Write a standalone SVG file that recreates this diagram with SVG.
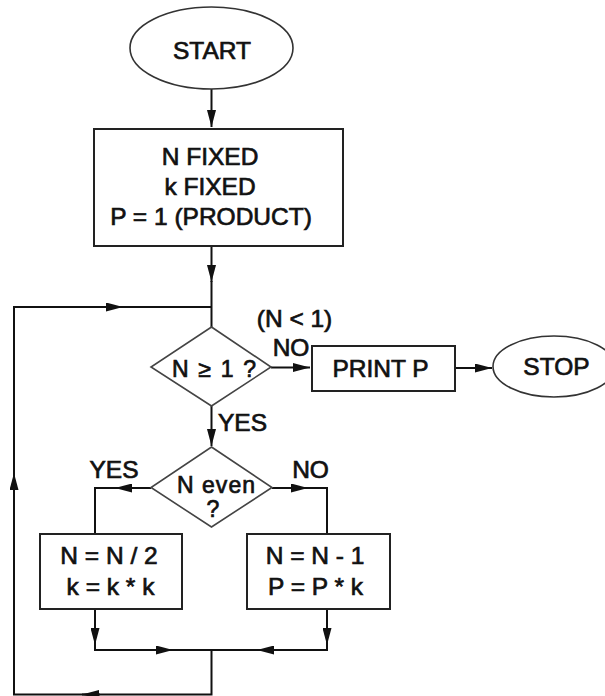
<svg xmlns="http://www.w3.org/2000/svg" width="605" height="696" viewBox="0 0 605 696">
<style>
  text { font-family: "Liberation Sans", Arial, sans-serif; font-size: 24.5px; fill: #111; stroke: #111; stroke-width: 0.7px; text-anchor: middle; }
  .dt { font-size: 23px; }
  .box { fill: #fff; stroke: #222; stroke-width: 2; }
  .ell { fill: #fff; stroke: #333; stroke-width: 1.6; }
  .dia { fill: #fff; stroke: #444; stroke-width: 1.6; }
  .ln { fill: none; stroke: #111; stroke-width: 2; }
  .ar { fill: none; stroke: #111; stroke-width: 2; marker-end: url(#ah); }
</style>
<defs>
  <marker id="ah" markerUnits="userSpaceOnUse" markerWidth="17" markerHeight="9" refX="17" refY="4.5" orient="auto">
    <path d="M0,0 L17,4.5 L0,9 z" fill="#111"/>
  </marker>
</defs>
<rect width="605" height="696" fill="#fff"/>

<g id="connectors">
  <path class="ar" d="M211.5,89 V127"/>
  <path class="ar" d="M211.5,246 V282"/>
  <path class="ln" d="M211.5,281 V327"/>
  <path class="ln" d="M211.5,650 V694.5 H14 V307 H211.5"/>
  <path class="ar" d="M100,694.5 H82"/>
  <path class="ar" d="M14,492 V473"/>
  <path class="ar" d="M100,307 H123"/>
  <path class="ar" d="M271,367.5 H310"/>
  <path class="ar" d="M455,368 H492"/>
  <path class="ar" d="M211.5,406 V446"/>
  <path class="ar" d="M151,488 H115"/>
  <path class="ln" d="M116,488 H95 V534"/>
  <path class="ar" d="M272,488 H308"/>
  <path class="ln" d="M307,488 H327 V534"/>
  <path class="ar" d="M95,609 V645"/>
  <path class="ar" d="M95,644 V650 H173"/>
  <path class="ln" d="M172,650 H258"/>
  <path class="ar" d="M327,609 V645"/>
  <path class="ar" d="M327,644 V650 H257"/>
</g>

<g id="start">
  <ellipse class="ell" cx="211.5" cy="48" rx="81.5" ry="41"/>
  <text x="212" y="59">START</text>
</g>

<g id="init">
  <rect class="box" x="94" y="129" width="249" height="117"/>
  <text x="210" y="165">N FIXED</text>
  <text x="210" y="195">k FIXED</text>
  <text x="211" y="225">P = 1 (PRODUCT)</text>
</g>

<g id="test-n">
  <polygon class="dia" points="211.5,327 271,367 211.5,406 151,367"/>
  <text class="dt" x="214" y="377" textLength="84">N ≥ 1 ?</text>
</g>

<g id="labels-test-n">
  <text x="294.5" y="327">(N &lt; 1)</text>
  <text x="291" y="356">NO</text>
  <text x="218" y="431" style="text-anchor:start">YES</text>
</g>

<g id="print">
  <rect class="box" x="312" y="346" width="143" height="45"/>
  <text x="380.5" y="377">PRINT P</text>
</g>

<g id="stop">
  <ellipse class="ell" cx="554" cy="366.5" rx="61" ry="30.5"/>
  <text x="556.5" y="375">STOP</text>
</g>

<g id="test-even">
  <polygon class="dia" points="211.5,447 272,487.5 211.5,527 151,487.5"/>
  <text class="dt" x="216" y="493" textLength="78">N even</text>
  <text class="dt" x="213" y="517">?</text>
</g>

<g id="labels-test-even">
  <text x="114" y="478">YES</text>
  <text x="310.5" y="478">NO</text>
</g>

<g id="halve">
  <rect class="box" x="40" y="534" width="142" height="75"/>
  <text x="109" y="564">N = N / 2</text>
  <text x="110.5" y="595">k = k * k</text>
</g>

<g id="decrement">
  <rect class="box" x="247" y="534" width="143" height="75"/>
  <text x="315" y="564">N = N - 1</text>
  <text x="315.5" y="595">P = P * k</text>
</g>
</svg>
